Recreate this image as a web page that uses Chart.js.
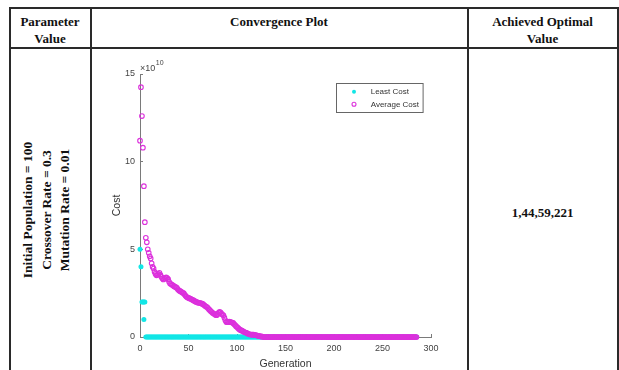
<!DOCTYPE html>
<html>
<head>
<meta charset="utf-8">
<script src="https://cdn.jsdelivr.net/npm/chart.js@4.4.0/dist/chart.umd.min.js"></script>
<style>
  html, body { margin: 0; padding: 0; background: #fff; width: 619px; height: 370px; overflow: hidden; }
  body { position: relative; font-family: "Liberation Serif", "Times New Roman", serif; color: #111; }
  .line { position: absolute; background: #2a2a2a; }
  .cell { position: absolute; font-weight: bold; font-size: 13px; text-align: center; line-height: 17px; }
  .rot { position: absolute; font-weight: bold; font-size: 13.5px; line-height: 18.5px; text-align: center;
         white-space: nowrap; transform: translate(-50%, -50%) rotate(-90deg); }
  #plot { position: absolute; left: 92px; top: 49px; width: 375px; height: 321px; }
</style>
</head>
<body>

<!-- table rules -->
<div class="line" style="left:9px; top:7px; width:609px; height:1.5px;"></div>
<div class="line" style="left:9px; top:47px; width:609px; height:1.5px;"></div>
<div class="line" style="left:9px; top:7px; width:1.5px; height:370px;"></div>
<div class="line" style="left:90px; top:7px; width:1.5px; height:370px;"></div>
<div class="line" style="left:467px; top:7px; width:1.5px; height:370px;"></div>
<div class="line" style="left:617px; top:7px; width:1.5px; height:370px;"></div>

<!-- header row -->
<div class="cell" style="left:10px; top:13px; width:80px;">Parameter<br>Value</div>
<div class="cell" style="left:91px; top:13px; width:376px;">Convergence Plot</div>
<div class="cell" style="left:468px; top:13px; width:149px;">Achieved Optimal<br>Value</div>

<!-- body row -->
<div class="rot" style="left:47px; top:210px;">Initial Population = 100<br>Crossover Rate = 0.3<br>Mutation Rate = 0.01</div>
<div class="cell" style="left:468px; top:204px; width:149px;">1,44,59,221</div>

<div id="plot"><canvas id="conv-chart"></canvas></div>

<script>
  // Cost per generation, generation 1 .. 285 (units of 1e10)
  const leastCost = [
    4.0, 2.0, 2.0, 1.0, 2.0,
    0, 0, 0, 0, 0, 0, 0, 0, 0, 0, 0, 0, 0, 0, 0, 0, 0, 0, 0, 0,
    0, 0, 0, 0, 0, 0, 0, 0, 0, 0, 0, 0, 0, 0, 0, 0, 0, 0, 0, 0,
    0, 0, 0, 0, 0, 0, 0, 0, 0, 0, 0, 0, 0, 0, 0, 0, 0, 0, 0, 0,
    0, 0, 0, 0, 0, 0, 0, 0, 0, 0, 0, 0, 0, 0, 0, 0, 0, 0, 0, 0,
    0, 0, 0, 0, 0, 0, 0, 0, 0, 0, 0, 0, 0, 0, 0, 0, 0, 0, 0, 0,
    0, 0, 0, 0, 0, 0, 0, 0, 0, 0, 0, 0, 0, 0, 0, 0, 0, 0, 0, 0,
    0, 0, 0, 0, 0, 0, 0, 0, 0, 0, 0, 0, 0, 0, 0, 0, 0, 0, 0, 0,
    0, 0, 0, 0, 0, 0, 0, 0, 0, 0, 0, 0, 0, 0, 0, 0, 0, 0, 0, 0,
    0, 0, 0, 0, 0, 0, 0, 0, 0, 0, 0, 0, 0, 0, 0, 0, 0, 0, 0, 0,
    0, 0, 0, 0, 0, 0, 0, 0, 0, 0, 0, 0, 0, 0, 0, 0, 0, 0, 0, 0,
    0, 0, 0, 0, 0, 0, 0, 0, 0, 0, 0, 0, 0, 0, 0, 0, 0, 0, 0, 0,
    0, 0, 0, 0, 0, 0, 0, 0, 0, 0, 0, 0, 0, 0, 0, 0, 0, 0, 0, 0,
    0, 0, 0, 0, 0, 0, 0, 0, 0, 0, 0, 0, 0, 0, 0, 0, 0, 0, 0, 0,
    0, 0, 0, 0, 0, 0, 0, 0, 0, 0, 0, 0, 0, 0, 0, 0, 0, 0, 0, 0
  ];

  const avgCost = [
    14.25, 12.6, 10.8, 8.6, 6.55, 5.66, 5.4, 5.0, 4.8, 4.6,
    4.48, 4.2, 4.0, 3.9, 3.72, 3.6, 3.52, 3.55, 3.6, 3.66,
    3.55, 3.43, 3.35, 3.28, 3.32, 3.38, 3.4, 3.36, 3.3, 3.15,
    3.05, 3.02, 2.98, 2.95, 2.9, 2.86, 2.84, 2.8, 2.72, 2.66,
    2.63, 2.6, 2.56, 2.52, 2.5, 2.42, 2.35, 2.29, 2.25, 2.24,
    2.2, 2.19, 2.15, 2.12, 2.1, 2.06, 2.03, 2.0, 1.98, 1.96,
    1.95, 1.94, 1.92, 1.9, 1.87, 1.82, 1.78, 1.74, 1.71, 1.65,
    1.58, 1.53, 1.47, 1.42, 1.37, 1.34, 1.3, 1.26, 1.24, 1.3,
    1.38, 1.43, 1.4, 1.33, 1.28, 1.24, 1.1, 0.95, 0.86, 0.84,
    0.86, 0.88, 0.86, 0.84, 0.82, 0.8, 0.74, 0.68, 0.62, 0.57,
    0.52, 0.46, 0.42, 0.39, 0.36, 0.34, 0.3, 0.27, 0.25, 0.23,
    0.2, 0.17, 0.15, 0.14, 0.14, 0.13, 0.13, 0.12, 0.11, 0.1,
    0.08, 0.06, 0.05, 0.04, 0.03, 0.02, 0.01, 0, 0, 0,
    0, 0, 0, 0, 0, 0, 0, 0, 0, 0, 0, 0, 0, 0, 0, 0, 0, 0, 0, 0,
    0, 0, 0, 0, 0, 0, 0, 0, 0, 0, 0, 0, 0, 0, 0, 0, 0, 0, 0, 0,
    0, 0, 0, 0, 0, 0, 0, 0, 0, 0, 0, 0, 0, 0, 0, 0, 0, 0, 0, 0,
    0, 0, 0, 0, 0, 0, 0, 0, 0, 0, 0, 0, 0, 0, 0, 0, 0, 0, 0, 0,
    0, 0, 0, 0, 0, 0, 0, 0, 0, 0, 0, 0, 0, 0, 0, 0, 0, 0, 0, 0,
    0, 0, 0, 0, 0, 0, 0, 0, 0, 0, 0, 0, 0, 0, 0, 0, 0, 0, 0, 0,
    0, 0, 0, 0, 0, 0, 0, 0, 0, 0, 0, 0, 0, 0, 0, 0, 0, 0, 0, 0,
    0, 0, 0, 0, 0, 0, 0, 0, 0, 0, 0, 0, 0, 0, 0
  ];

  // a few early points that sit at generation 0 / repeat a generation
  const leastExtraGen = [0, 4];
  const leastExtraCost = [5.0, 2.0];
  const avgExtraGen = [0];
  const avgExtraCost = [11.2];

  const xTicks = [0, 50, 100, 150, 200, 250, 300];
  const yTicks = [0, 5, 10, 15];

  const CYAN = '#12e6e6';
  const MAGENTA = '#dc30dc';
  const AXIS = '#7a7a7a';
  const SANS = '"Liberation Sans", Arial, Helvetica, sans-serif';

  function toPoints(values, extraGen, extraVal) {
    const pts = values.map((v, i) => ({ x: i + 1, y: v }));
    extraGen.forEach((g, i) => pts.push({ x: g, y: extraVal[i] }));
    return pts;
  }

  // legend box inside the axes, MATLAB style
  const boxLegend = {
    id: 'boxLegend',
    afterDraw(chart) {
      const { ctx, chartArea } = chart;
      const w = 86.6, h = 29;
      const x0 = chartArea.right - 8.7 - w;
      const y0 = chartArea.top + 9.3;
      ctx.save();
      ctx.fillStyle = '#fff';
      ctx.fillRect(x0, y0, w, h);
      ctx.strokeStyle = '#666';
      ctx.lineWidth = 1;
      ctx.strokeRect(Math.round(x0) + 0.5, Math.round(y0) + 0.5, w, h);
      ctx.font = '8px ' + SANS;
      ctx.textBaseline = 'middle';
      chart.data.datasets.forEach((ds, i) => {
        const yy = y0 + 8.4 + i * 12.6;
        ctx.beginPath();
        ctx.arc(x0 + 18.3, yy, 2, 0, Math.PI * 2);
        if (ds.pointBackgroundColor !== 'transparent') {
          ctx.fillStyle = ds.pointBackgroundColor;
          ctx.fill();
        } else {
          ctx.strokeStyle = ds.pointBorderColor;
          ctx.lineWidth = ds.pointBorderWidth;
          ctx.stroke();
        }
        ctx.fillStyle = '#333';
        ctx.fillText(ds.label, x0 + 35, yy);
      });
      ctx.restore();
    }
  };

  // the "x 10^10" exponent above the y axis
  const exponentLabel = {
    id: 'exponentLabel',
    afterDraw(chart) {
      const { ctx, chartArea } = chart;
      ctx.save();
      ctx.fillStyle = '#444';
      ctx.textBaseline = 'middle';
      ctx.font = '9px ' + SANS;
      const base = '\u00d710';
      ctx.fillText(base, chartArea.left, chartArea.top - 5.5);
      const w = ctx.measureText(base).width;
      ctx.font = '7px ' + SANS;
      ctx.fillText('10', chartArea.left + w + 0.5, chartArea.top - 10.5);
      ctx.restore();
    }
  };

  const tickFont = { family: SANS, size: 9 };
  const titleFont = { family: SANS, size: 10.5 };

  new Chart(document.getElementById('conv-chart').getContext('2d'), {
    type: 'scatter',
    data: {
      datasets: [
        {
          label: 'Least Cost',
          data: toPoints(leastCost, leastExtraGen, leastExtraCost),
          pointRadius: 2.5,
          pointBorderWidth: 0,
          pointBackgroundColor: CYAN,
          pointBorderColor: CYAN,
          clip: false,
          order: 2
        },
        {
          label: 'Average Cost',
          data: toPoints(avgCost, avgExtraGen, avgExtraCost),
          pointRadius: 2.3,
          pointBorderWidth: 1.1,
          pointBackgroundColor: 'transparent',
          pointBorderColor: MAGENTA,
          clip: false,
          order: 1
        }
      ]
    },
    options: {
      responsive: true,
      maintainAspectRatio: false,
      animation: false,
      layout: { padding: { left: 14, right: 36, top: 25, bottom: 0 } },
      plugins: {
        legend: { display: false },
        tooltip: { enabled: false }
      },
      scales: {
        x: {
          type: 'linear',
          min: 0,
          max: 300,
          afterBuildTicks: scale => { scale.ticks = xTicks.map(v => ({ value: v })); },
          afterFit: scale => { scale.height = 33; },
          ticks: { font: tickFont, color: '#444', padding: 9, maxRotation: 0 },
          grid: { drawOnChartArea: false, drawTicks: true, tickLength: -3, color: AXIS },
          border: { display: true, color: AXIS, width: 1 },
          title: { display: true, text: 'Generation', font: titleFont, color: '#333', padding: { top: 0, bottom: 0 } }
        },
        y: {
          type: 'linear',
          min: 0,
          max: 15,
          afterBuildTicks: scale => { scale.ticks = yTicks.map(v => ({ value: v })); },
          afterFit: scale => { scale.width = 34; },
          ticks: { font: tickFont, color: '#444', padding: 8 },
          grid: { drawOnChartArea: false, drawTicks: true, tickLength: -3, color: AXIS },
          border: { display: true, color: AXIS, width: 1 },
          title: { display: true, text: 'Cost', font: titleFont, color: '#333', padding: { top: 5, bottom: 0 } }
        }
      }
    },
    plugins: [boxLegend, exponentLabel]
  });
</script>
</body>
</html>
